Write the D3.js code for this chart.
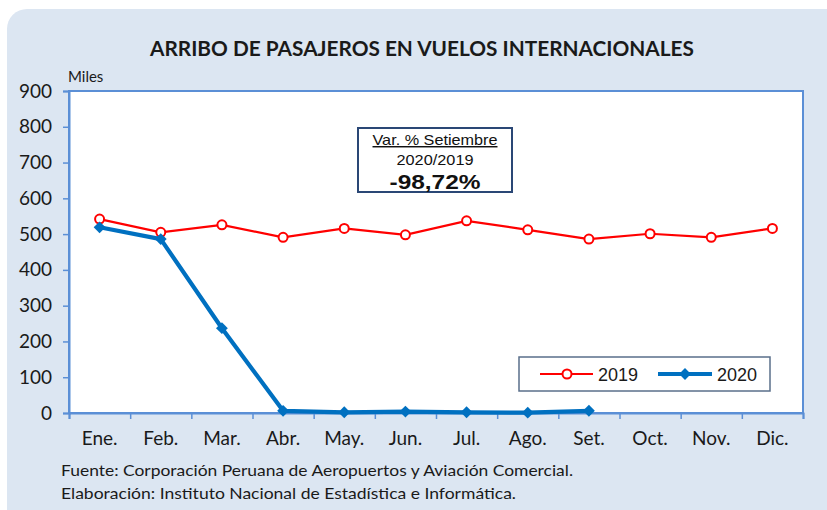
<!DOCTYPE html>
<html>
<head>
<meta charset="utf-8">
<script src="https://cdn.jsdelivr.net/npm/d3@7"></script>
<style>
  html, body { margin: 0; padding: 0; background: #ffffff; }
  svg { display: block; }
</style>
</head>
<body>
<svg id="chart" width="827" height="510"></svg>
<script>
// Monthly international passenger arrivals (thousands)
const months = ["Ene.", "Feb.", "Mar.", "Abr.", "May.", "Jun.", "Jul.", "Ago.", "Set.", "Oct.", "Nov.", "Dic."];
const values2019 = [542, 505, 526, 491, 516, 498, 537, 512, 486, 501, 491, 516];
const values2020 = [519, 486, 237, 6, 2, 4, 2, 1, 6.2];
const yTicks = [0, 100, 200, 300, 400, 500, 600, 700, 800, 900];
const seriesNames = ["2019", "2020"];

const title = "ARRIBO DE PASAJEROS EN VUELOS INTERNACIONALES";
const unitLabel = "Miles";
const noteLines = ["Var. % Setiembre", "2020/2019", "-98,72%"];
const sourceLines = [
  "Fuente: Corporación Peruana de Aeropuertos y Aviación Comercial.",
  "Elaboración: Instituto Nacional de Estadística e Informática."
];

const svg = d3.select("#chart");
const labelFont = "Lato, 'Open Sans', sans-serif";
const boxFont = "'Liberation Sans', Arial, sans-serif";
const red = "#ff0000";
const blue = "#0070c0";
const frame = "#5b8fd6";

// Panel background
svg.append("rect")
  .attr("x", 7).attr("y", 9)
  .attr("width", 840).attr("height", 520)
  .attr("rx", 20).attr("ry", 20)
  .attr("fill", "#dce6f2");

// Title
svg.append("text")
  .attr("x", 150).attr("y", 56)
  .attr("textLength", 544).attr("lengthAdjust", "spacingAndGlyphs")
  .attr("font-family", labelFont).attr("font-weight", "bold")
  .attr("font-size", 20).attr("fill", "#1a1a1a")
  .text(title);

// Plot area
const plot = { left: 69, top: 91, right: 803, bottom: 413 };

const x = d3.scaleBand().domain(months).range([plot.left, plot.right]).padding(0);
const xEdge = d3.scaleLinear().domain([0, months.length]).range([plot.left, plot.right]);
const y = d3.scaleLinear().domain([0, 900]).range([plot.bottom, plot.top]);

svg.append("rect")
  .attr("x", plot.left).attr("y", plot.top)
  .attr("width", plot.right - plot.left).attr("height", plot.bottom - plot.top)
  .attr("fill", "#ffffff").attr("stroke", frame).attr("stroke-width", 2);

// Y axis
const yAxis = svg.append("g")
  .attr("transform", `translate(${plot.left},0)`)
  .call(d3.axisLeft(y).tickValues(yTicks).tickSize(6).tickPadding(11).tickFormat(d3.format("d")));
yAxis.select(".domain").attr("stroke", frame).attr("stroke-width", 2);
yAxis.selectAll(".tick line").attr("stroke", frame).attr("stroke-width", 1.5);
yAxis.selectAll(".tick text")
  .attr("font-family", labelFont).attr("font-size", 19).attr("fill", "#1a1a1a");

// X axis: category boundary ticks
const xTickAxis = svg.append("g")
  .attr("transform", `translate(0,${plot.bottom})`)
  .call(d3.axisBottom(xEdge).tickValues(d3.range(months.length + 1)).tickSize(6).tickFormat(""));
xTickAxis.select(".domain").attr("stroke", frame).attr("stroke-width", 2);
xTickAxis.selectAll(".tick line").attr("stroke", frame).attr("stroke-width", 1.5);

// X axis: month labels centred in each band
const xLabelAxis = svg.append("g")
  .attr("transform", `translate(0,${plot.bottom})`)
  .call(d3.axisBottom(x).tickSize(0).tickPadding(19));
xLabelAxis.select(".domain").remove();
xLabelAxis.selectAll(".tick text")
  .attr("font-family", labelFont).attr("font-size", 19).attr("fill", "#1a1a1a");

// Unit label
svg.append("text")
  .attr("x", 68).attr("y", 82)
  .attr("font-family", labelFont).attr("font-size", 15).attr("fill", "#1a1a1a")
  .text(unitLabel);

const cx = (d, i) => x(months[i]) + x.bandwidth() / 2;
const line = d3.line().x((d, i) => cx(d, i)).y(d => y(d));
const diamond = d3.symbol(d3.symbolSquare, 70);

// 2019 series
svg.append("path")
  .datum(values2019)
  .attr("d", line)
  .attr("fill", "none").attr("stroke", red).attr("stroke-width", 2.2);
svg.selectAll(".m2019")
  .data(values2019).enter().append("circle")
  .attr("class", "m2019")
  .attr("cx", cx).attr("cy", d => y(d)).attr("r", 4.5)
  .attr("fill", "#ffffff").attr("stroke", red).attr("stroke-width", 2);

// 2020 series
svg.append("path")
  .datum(values2020)
  .attr("d", line)
  .attr("fill", "none").attr("stroke", blue).attr("stroke-width", 4.2)
  .attr("stroke-linejoin", "round");
svg.selectAll(".m2020")
  .data(values2020).enter().append("path")
  .attr("class", "m2020")
  .attr("d", diamond)
  .attr("transform", (d, i) => `translate(${cx(d, i)},${y(d)}) rotate(45)`)
  .attr("fill", blue);

// Note box
const note = svg.append("g");
note.append("rect")
  .attr("x", 358).attr("y", 128).attr("width", 154).attr("height", 64)
  .attr("fill", "#ffffff").attr("stroke", "#2a4775").attr("stroke-width", 2);
note.append("text")
  .attr("x", 435).attr("y", 145).attr("text-anchor", "middle")
  .attr("textLength", 125).attr("lengthAdjust", "spacingAndGlyphs")
  .attr("font-family", boxFont).attr("font-size", 14.5).attr("fill", "#111")
  .attr("text-decoration", "underline")
  .text(noteLines[0]);
note.append("text")
  .attr("x", 435).attr("y", 165).attr("text-anchor", "middle")
  .attr("textLength", 77).attr("lengthAdjust", "spacingAndGlyphs")
  .attr("font-family", boxFont).attr("font-size", 14.5).attr("fill", "#111")
  .text(noteLines[1]);
note.append("text")
  .attr("x", 435).attr("y", 189).attr("text-anchor", "middle")
  .attr("textLength", 91).attr("lengthAdjust", "spacingAndGlyphs")
  .attr("font-family", boxFont).attr("font-size", 20).attr("font-weight", "bold").attr("fill", "#111")
  .text(noteLines[2]);

// Legend
const legend = svg.append("g");
legend.append("rect")
  .attr("x", 519).attr("y", 357).attr("width", 251).attr("height", 34)
  .attr("fill", "#ffffff").attr("stroke", "#5a6f8a").attr("stroke-width", 1.5);
const ly = 374;
legend.append("line")
  .attr("x1", 540).attr("x2", 593).attr("y1", ly).attr("y2", ly)
  .attr("stroke", red).attr("stroke-width", 2.2);
legend.append("circle")
  .attr("cx", 567).attr("cy", ly).attr("r", 4.5)
  .attr("fill", "#ffffff").attr("stroke", red).attr("stroke-width", 2);
legend.append("text")
  .attr("x", 598).attr("y", ly + 6.5)
  .attr("font-family", boxFont).attr("font-size", 18).attr("fill", "#1a1a1a")
  .text(seriesNames[0]);
legend.append("line")
  .attr("x1", 658).attr("x2", 712).attr("y1", ly).attr("y2", ly)
  .attr("stroke", blue).attr("stroke-width", 4.2);
legend.append("path")
  .attr("d", diamond)
  .attr("transform", `translate(685,${ly}) rotate(45)`)
  .attr("fill", blue);
legend.append("text")
  .attr("x", 717).attr("y", ly + 6.5)
  .attr("font-family", boxFont).attr("font-size", 18).attr("fill", "#1a1a1a")
  .text(seriesNames[1]);

// Source notes
svg.append("text")
  .attr("x", 61).attr("y", 476)
  .attr("textLength", 512).attr("lengthAdjust", "spacingAndGlyphs")
  .attr("font-family", labelFont).attr("font-size", 15).attr("fill", "#1a1a1a")
  .text(sourceLines[0]);
svg.append("text")
  .attr("x", 61).attr("y", 499)
  .attr("textLength", 455).attr("lengthAdjust", "spacingAndGlyphs")
  .attr("font-family", labelFont).attr("font-size", 15).attr("fill", "#1a1a1a")
  .text(sourceLines[1]);
</script>
</body>
</html>
